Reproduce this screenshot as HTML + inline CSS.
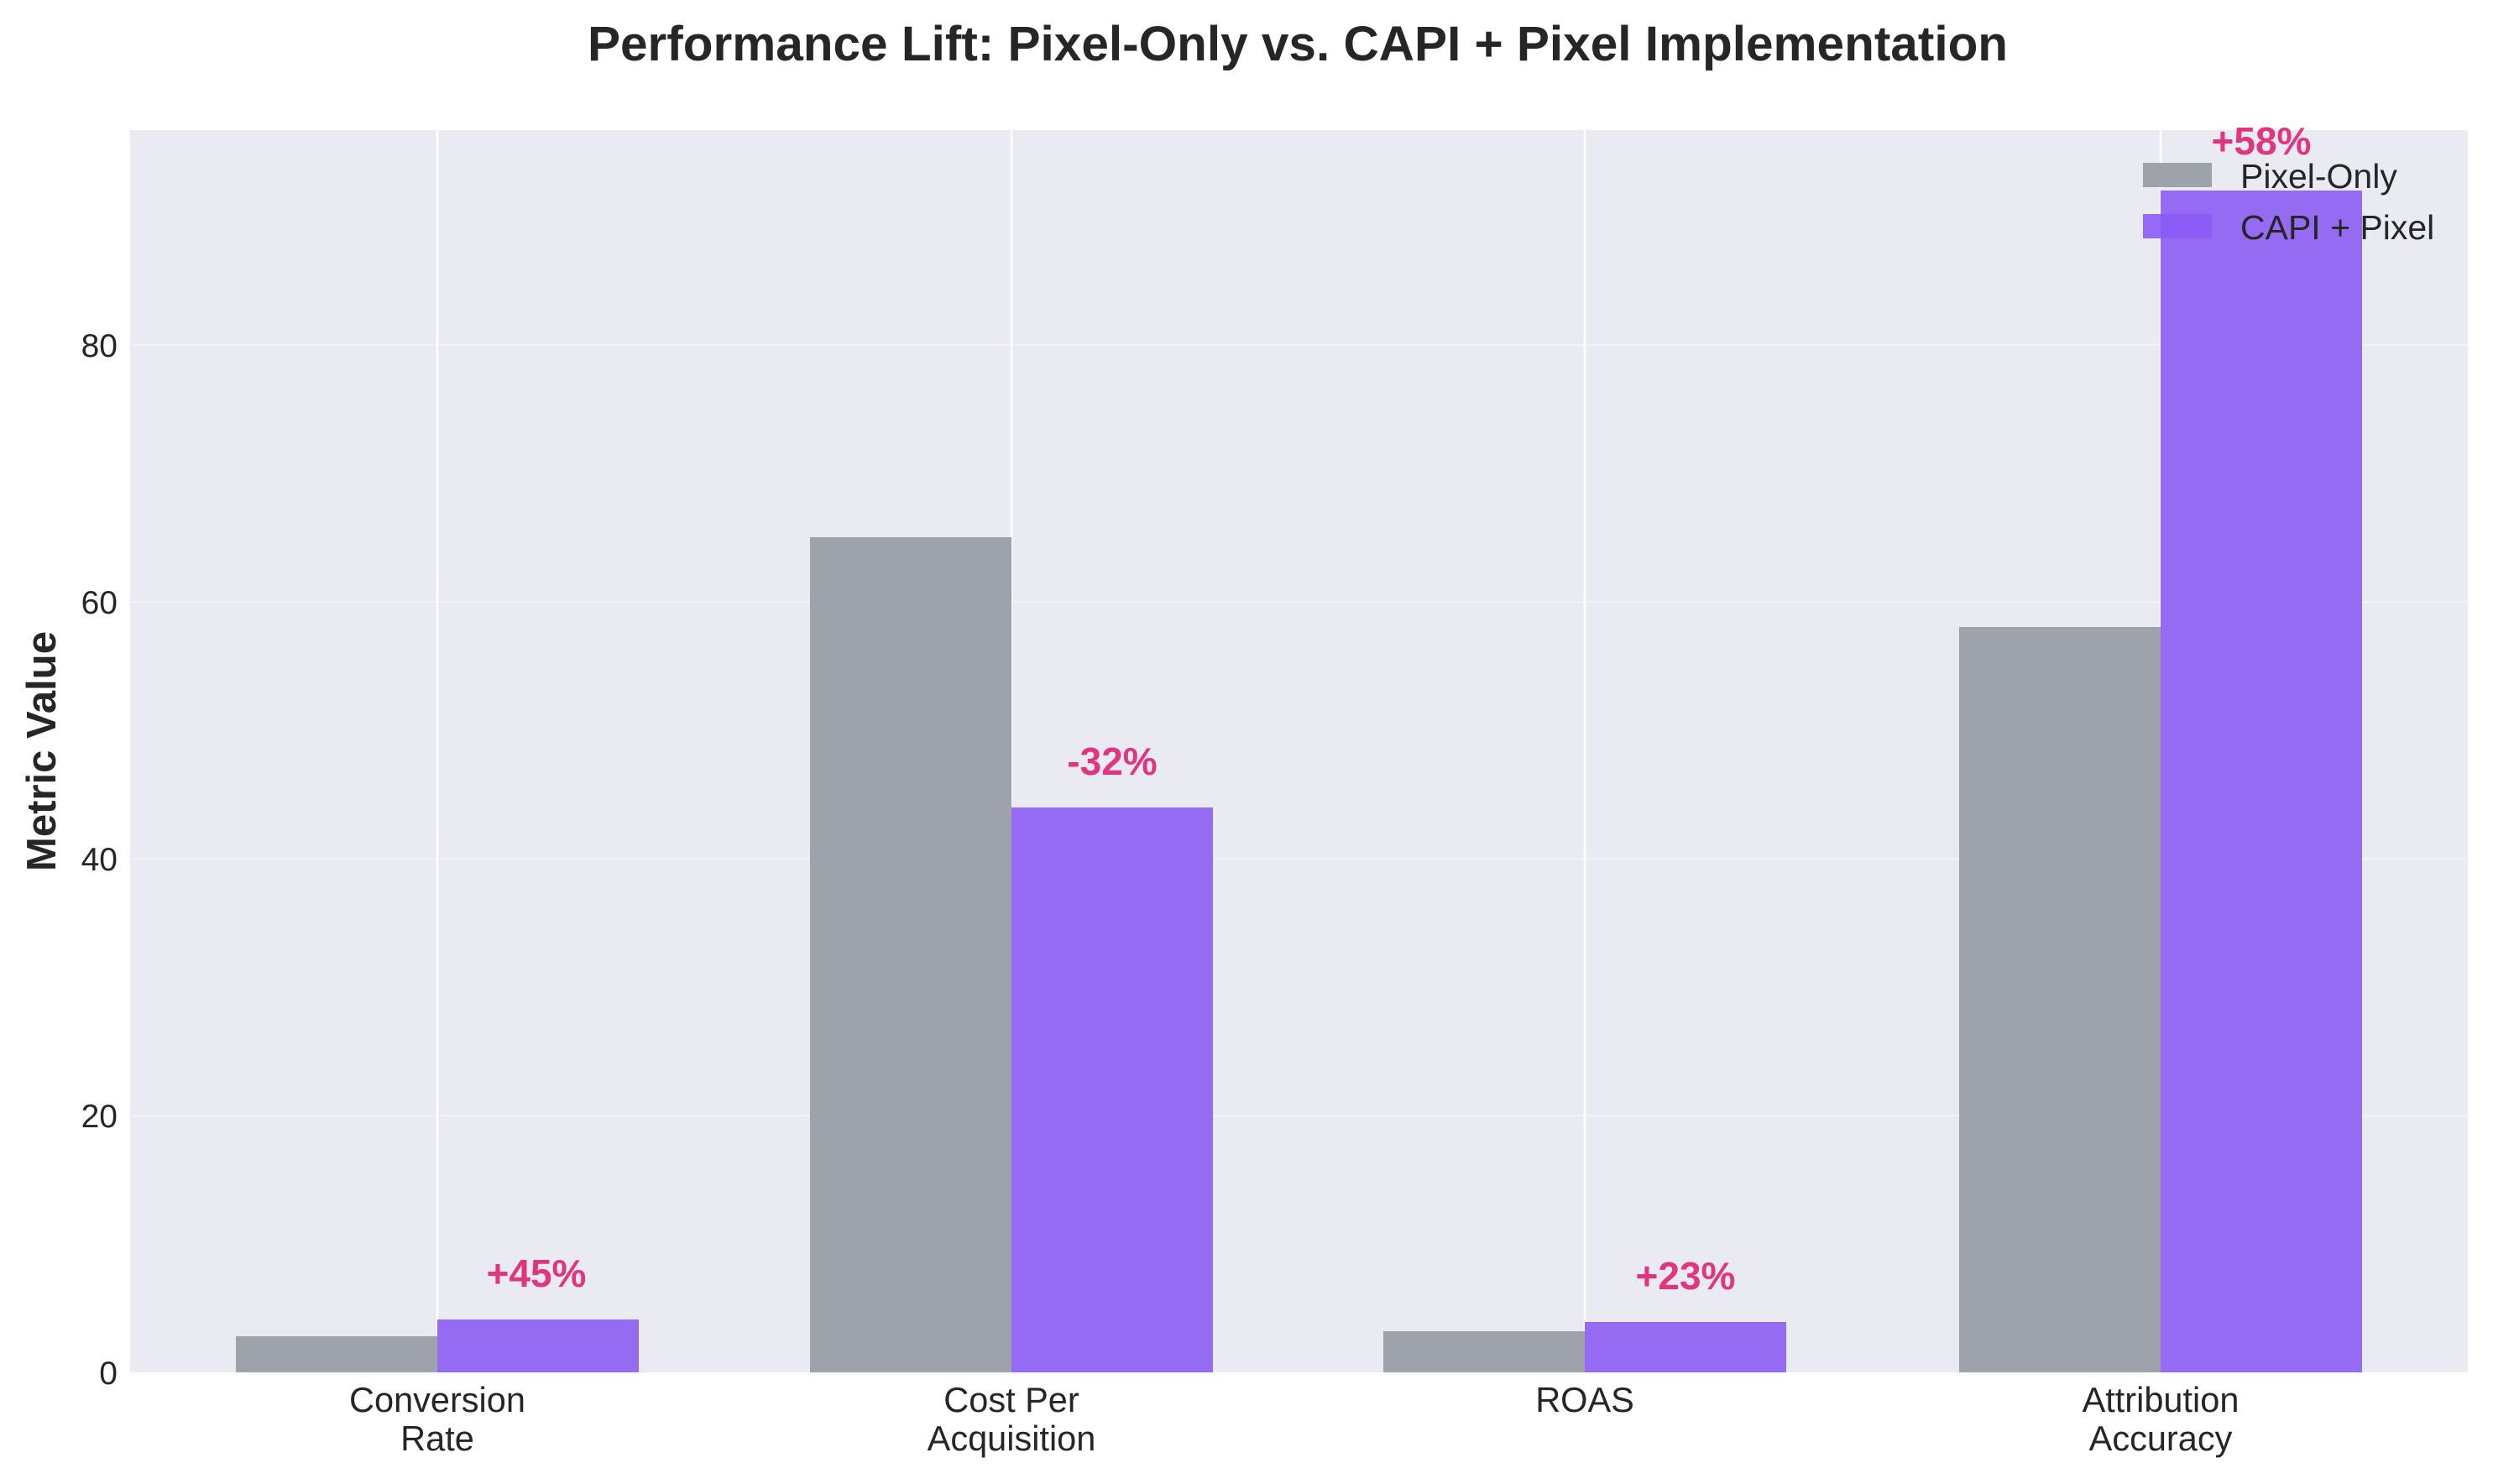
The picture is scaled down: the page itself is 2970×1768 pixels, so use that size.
<!DOCTYPE html>
<html><head><meta charset="utf-8"><style>
html,body{margin:0;padding:0;background:#fff;}
svg{display:block;font-family:"Liberation Sans",sans-serif;}
</style></head><body>
<svg width="2970" height="1768" viewBox="0 0 2970 1768" xmlns="http://www.w3.org/2000/svg">
<rect width="2970" height="1768" fill="#fff"/>
<text x="1546" y="72" text-anchor="middle" font-size="58.5" font-weight="bold" fill="#262626">Performance Lift: Pixel-Only vs. CAPI + Pixel Implementation</text>
<rect x="155" y="155" width="2785" height="1480" fill="#eaeaf2"/>
<g stroke="#f2f2f7" stroke-width="2">
<line x1="155" y1="1329" x2="2940" y2="1329"/>
<line x1="155" y1="1023" x2="2940" y2="1023"/>
<line x1="155" y1="717" x2="2940" y2="717"/>
<line x1="155" y1="411" x2="2940" y2="411"/>
</g>
<g stroke="#fff" stroke-width="2.5">
<line x1="521" y1="155" x2="521" y2="1635"/>
<line x1="1205" y1="155" x2="1205" y2="1635"/>
<line x1="1888" y1="155" x2="1888" y2="1635"/>
<line x1="2574" y1="155" x2="2574" y2="1635"/>
</g>
<g fill="#9ea2ab">
<rect x="281" y="1592" width="240" height="43"/>
<rect x="965" y="640" width="240" height="995"/>
<rect x="1648" y="1586" width="240" height="49"/>
<rect x="2334" y="747" width="240" height="888"/>
</g>
<g fill="#946bf2">
<rect x="521" y="1572" width="240" height="63"/>
<rect x="1205" y="962" width="240" height="673"/>
<rect x="1888" y="1575" width="240" height="60"/>
<rect x="2574" y="227" width="240" height="1408"/>
</g>
<g font-size="46" font-weight="bold" fill="#e0357f" text-anchor="middle">
<text x="639" y="1533">+45%</text>
<text x="1325" y="923">-32%</text>
<text x="2008" y="1536">+23%</text>
<text x="2694" y="184">+58%</text>
</g>
<g font-size="39" fill="#262626" text-anchor="end">
<text x="140" y="1649">0</text>
<text x="140" y="1343">20</text>
<text x="140" y="1037">40</text>
<text x="140" y="731">60</text>
<text x="140" y="425">80</text>
</g>
<g font-size="41.5" fill="#262626" text-anchor="middle">
<text x="521" y="1682">Conversion</text><text x="521" y="1728">Rate</text>
<text x="1205" y="1682">Cost Per</text><text x="1205" y="1728">Acquisition</text>
<text x="1888" y="1682">ROAS</text>
<text x="2574" y="1682">Attribution</text><text x="2574" y="1728">Accuracy</text>
</g>
<text transform="translate(66,895) rotate(-90)" text-anchor="middle" font-size="49" font-weight="bold" fill="#262626">Metric Value</text>
<rect x="2553" y="194" width="82" height="29" fill="#9ea2ab"/>
<rect x="2553" y="255" width="82" height="29" fill="#8b5cf6" opacity="0.9"/>
<g font-size="41" fill="#262626">
<text x="2669" y="224">Pixel-Only</text>
<text x="2669" y="285">CAPI + Pixel</text>
</g>
</svg>
</body></html>
